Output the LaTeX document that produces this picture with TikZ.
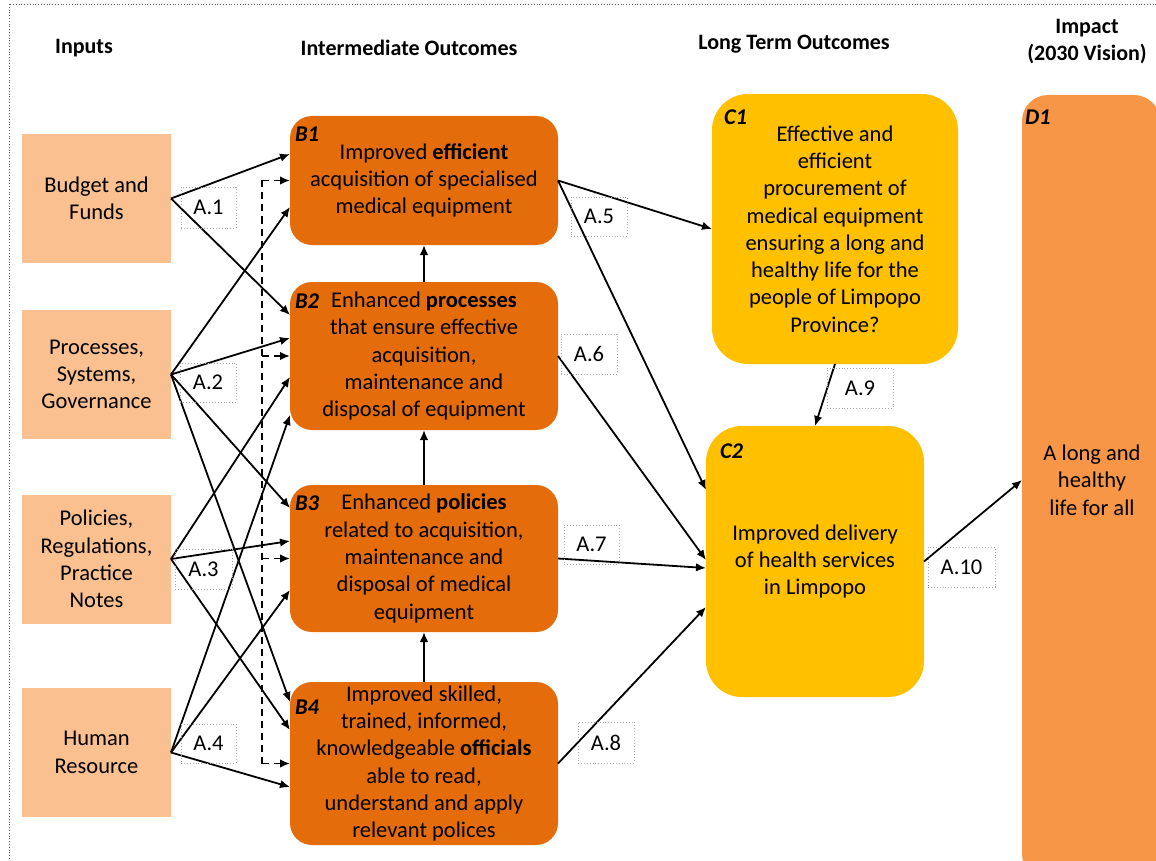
\documentclass[tikz,border=0pt]{standalone}
\usepackage{fontspec}
\setmainfont{Carlito}
\usetikzlibrary{arrows.meta,calc}

\definecolor{inputfill}{HTML}{FAC090}
\definecolor{midfill}{HTML}{E46C0A}
\definecolor{longfill}{HTML}{FFC000}
\definecolor{impactfill}{HTML}{F79646}
\definecolor{framegray}{HTML}{606060}

\begin{document}
\begin{tikzpicture}[x=1pt,y=-1pt,
  every node/.style={font=\fontsize{22.5}{27.3}\selectfont, inner sep=0pt, outer sep=0pt},
  inbox/.style={fill=inputfill, minimum width=149pt, minimum height=129pt, align=center},
  midbox/.style={fill=midfill, rounded corners=22pt, minimum width=268pt, align=center},
  longbox/.style={fill=longfill, rounded corners=36pt, align=center},
  tag/.style={font=\fontsize{22.5}{27}\selectfont\bfseries\itshape, anchor=west},
  head/.style={font=\fontsize{22}{27}\selectfont\bfseries, align=center},
  lbl/.style={draw=gray!70, dotted, line width=0.9pt, minimum width=56pt, minimum height=40pt},
  link/.style={line width=1.8pt, -{Latex[length=10pt,width=8.5pt]}},
  busline/.style={line width=1.8pt, dash pattern=on 7pt off 5pt},
  buslink/.style={link, dash pattern=on 7pt off 5pt},
]
\useasboundingbox (0,0) rectangle (1156,861);
\clip (0,0) rectangle (1156,861);

% outer dotted frame
\draw[dotted, line width=0.8pt, framegray] (9,4) rectangle (1200,900);

% column headings
\node[head] (hin)   at (84,48)   {Inputs};
\node[head] (hmid)  at (409,48)  {Intermediate Outcomes};
\node[head] (hlong) at (794,44)  {Long Term Outcomes};
\node[head] (himp)  at (1087,42) {Impact\\(2030 Vision)};

% inputs
\node[inbox] (budget) at (96.5,198.5) {Budget and\\Funds};
\node[inbox] (proc)   at (96.5,374.5) {Processes,\\Systems,\\Governance};
\node[inbox] (pol)    at (96.5,559)   {Policies,\\Regulations,\\Practice\\Notes};
\node[inbox] (hr)     at (96.5,752.5) {Human\\Resource};

% intermediate outcomes
\node[midbox, minimum height=129pt] (b1) at (424,180.5)
  {Improved \textbf{efficient}\\acquisition of specialised\\medical equipment};
\node[midbox, minimum height=148pt] (b2) at (424,356)
  {Enhanced \textbf{processes}\\that ensure effective\\acquisition,\\maintenance and\\disposal of equipment};
\node[midbox, minimum height=147pt] (b3) at (424,558.5)
  {Enhanced \textbf{policies}\\related to acquisition,\\maintenance and\\disposal of medical\\equipment};
\node[midbox, minimum height=163pt] (b4) at (424,763.5)
  {Improved skilled,\\trained, informed,\\knowledgeable \textbf{officials}\\able to read,\\understand and apply\\relevant polices};

% long term outcomes
\node[longbox, minimum width=246pt, minimum height=270pt] (c1) at (835,229)
  {Effective and\\efficient\\procurement of\\medical equipment\\ensuring a long and\\healthy life for the\\people of Limpopo\\Province?};
\node[longbox, minimum width=218pt, minimum height=271pt] (c2) at (815,561.5)
  {Improved delivery\\of health services\\in Limpopo};

% impact
\node[fill=impactfill, rounded corners=26pt, minimum width=138pt, minimum height=785pt] (d1) at (1091,487.5) {};
\node[align=center] (d1txt) at (1092,480) {A long and\\healthy\\life for all};

% box tags
\node[tag] (tb1) at (295,134) {B1};
\node[tag] (tb2) at (295,301) {B2};
\node[tag] (tb3) at (295,503) {B3};
\node[tag] (tb4) at (295,707) {B4};
\node[tag] (tc1) at (724,117) {C1};
\node[tag] (tc2) at (720,451) {C2};
\node[tag] (td1) at (1025,117) {D1};

% inputs to intermediate outcomes
\draw[link] (budget.east) -- ($(b1.west)+(0,-26.5)$);
\draw[link] (budget.east) -- ($(b2.west)+(0,-41)$);
\draw[link] (proc.east) -- ($(b1.west)+(0,26.5)$);
\draw[link] (proc.east) -- ($(b2.west)+(0,-18)$);
\draw[link] (proc.east) -- ($(b3.west)+(0,-50.5)$);
\draw[link] (proc.east) -- ($(b4.west)+(0,-61.5)$);
\draw[link] (pol.east) -- ($(b2.west)+(0,21)$);
\draw[link] (pol.east) -- ($(b3.west)+(0,-17.5)$);
\draw[link] (pol.east) -- ($(b4.west)+(0,-33.5)$);
\draw[link] (hr.east) -- ($(b2.west)+(0,59)$);
\draw[link] (hr.east) -- ($(b3.west)+(0,31.5)$);
\draw[link] (hr.east) -- ($(b4.west)+(0,23.5)$);

% dashed feed bus
\coordinate (bus) at (262,0);
\draw[busline] (bus |- b1.west) -- (bus |- b4.west);
\foreach \b in {b1,b2,b3,b4}
  \draw[buslink] (bus |- \b.west) -- (\b.west);

% upward links between intermediate outcomes
\draw[link] (b2.north) -- (b1.south);
\draw[link] (b3.north) -- (b2.south);
\draw[link] (b4.north) -- (b3.south);

% intermediate to long term outcomes
\draw[link] (b1.east) -- (c1.west);
\draw[link] (b1.east) -- ($(c2.west)+(0,-71.5)$);
\draw[link] (b2.east) -- ($(c2.west)+(0,-1.5)$);
\draw[link] (b3.east) -- ($(c2.west)+(0,6.5)$);
\draw[link] (b4.east) -- ($(c2.west)+(0,45.5)$);
\draw[link] (c1.south) -- (c2.north);
\draw[link] (c2.east) -- (d1.west |- d1txt.center);

% assumption labels
\node[lbl, minimum width=55pt, minimum height=41pt] (a1) at (208.5,207.5) {A.1};
\node[lbl, minimum height=39pt] (a2) at (208,382.5) {A.2};
\node[lbl, minimum width=57pt] (a3) at (203.5,569) {A.3};
\node[lbl, minimum width=55pt, minimum height=39pt] (a4) at (208.5,743.5) {A.4};
\node[lbl, minimum height=39pt] (a5) at (599,216.5) {A.5};
\node[lbl] (a6) at (589,354) {A.6};
\node[lbl, minimum width=55pt, minimum height=39pt] (a7) at (591.5,544.5) {A.7};
\node[lbl, minimum height=41pt] (a8) at (606,742.5) {A.8};
\node[lbl, minimum width=66pt] (a9) at (860,388) {A.9};
\node[lbl, minimum width=67pt] (a10) at (961.5,567) {A.10};
\end{tikzpicture}
\end{document}
